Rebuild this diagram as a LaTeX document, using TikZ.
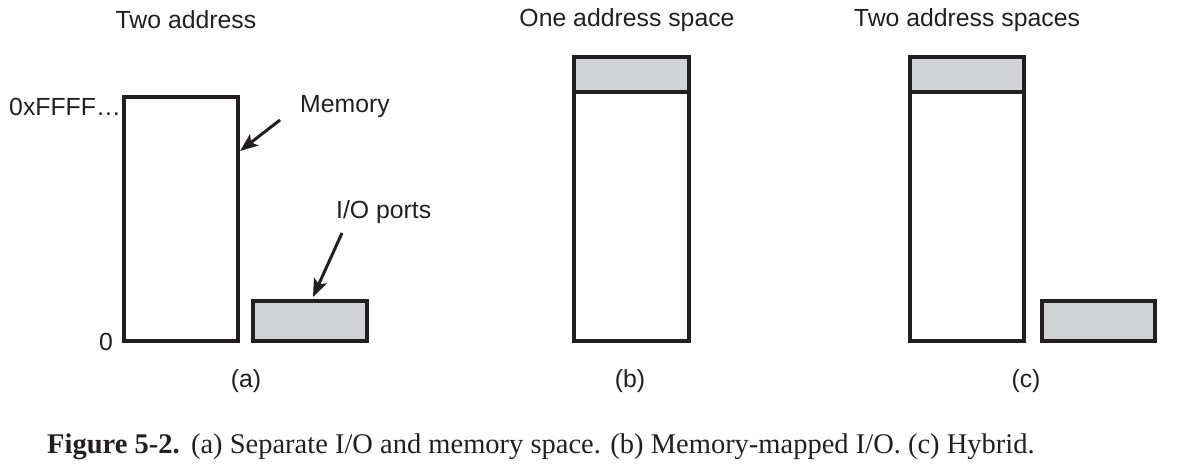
\documentclass[tikz,border=0pt]{standalone}
\usepackage{fontspec}
\setmainfont{Liberation Sans}
\newfontfamily\capfont{Liberation Serif}
\usetikzlibrary{arrows.meta}
\definecolor{ink}{RGB}{35,31,32}
\definecolor{fillgray}{RGB}{210,211,213}
\begin{document}
\begin{tikzpicture}[x=1pt,y=-1pt,
  box/.style={draw=ink,line width=3.5pt,fill=white},
  graybox/.style={draw=ink,line width=3.5pt,fill=fillgray},
  lbl/.style={inner sep=0pt,font=\fontsize{24.8}{29}\selectfont,text=ink},
  ptr/.style={draw=ink,line width=3pt,-{Stealth[length=18pt,width=14pt,inset=4pt]}}]
\useasboundingbox (0,0) rectangle (1182,472);
% titles
\node[lbl] (ta) at (186,20) {Two address};
\node[lbl] (tb) at (627,20) {One address space};
\node[lbl] (tc) at (967,20) {Two address spaces};
% (a)
\draw[box] (124,97) rectangle (238,341);
\coordinate (memedge) at (240,151);
\draw[graybox] (253,301) rectangle (367,341);
\coordinate (ioedge) at (313,297);
\node[lbl,anchor=east] (hi) at (121,107) {0xFFFF\ldots};
\node[lbl,anchor=east] (lo) at (113,342) {0};
\node[lbl,anchor=west] (mem) at (300,107) {Memory};
\node[lbl,anchor=west] (io) at (336,212) {I/O ports};
\coordinate (memtail) at (280,120);
\coordinate (iotail) at (342,233);
\draw[ptr] (memtail) -- (memedge);
\draw[ptr] (iotail) -- (ioedge);
\node[lbl] (la) at (246,381) {(a)};
% (b)
\draw[box] (574,92) rectangle (689,341);
\draw[graybox] (574,57) rectangle (689,92);
\node[lbl] (lb) at (630,381) {(b)};
% (c)
\draw[box] (910,92) rectangle (1024,341);
\draw[graybox] (910,57) rectangle (1024,92);
\draw[graybox] (1042,301) rectangle (1155,341);
\node[lbl] (lc) at (1026,381) {(c)};
% caption
\node[anchor=west,inner sep=0pt,text=ink,font=\capfont\fontsize{28.5}{33}\selectfont] (cap) at (47,447)
  {\textbf{Figure 5-2.}\hspace{0.4em}(a) Separate I/O and memory space. (b) Memory-mapped I/O. (c) Hybrid.};
\end{tikzpicture}
\end{document}
